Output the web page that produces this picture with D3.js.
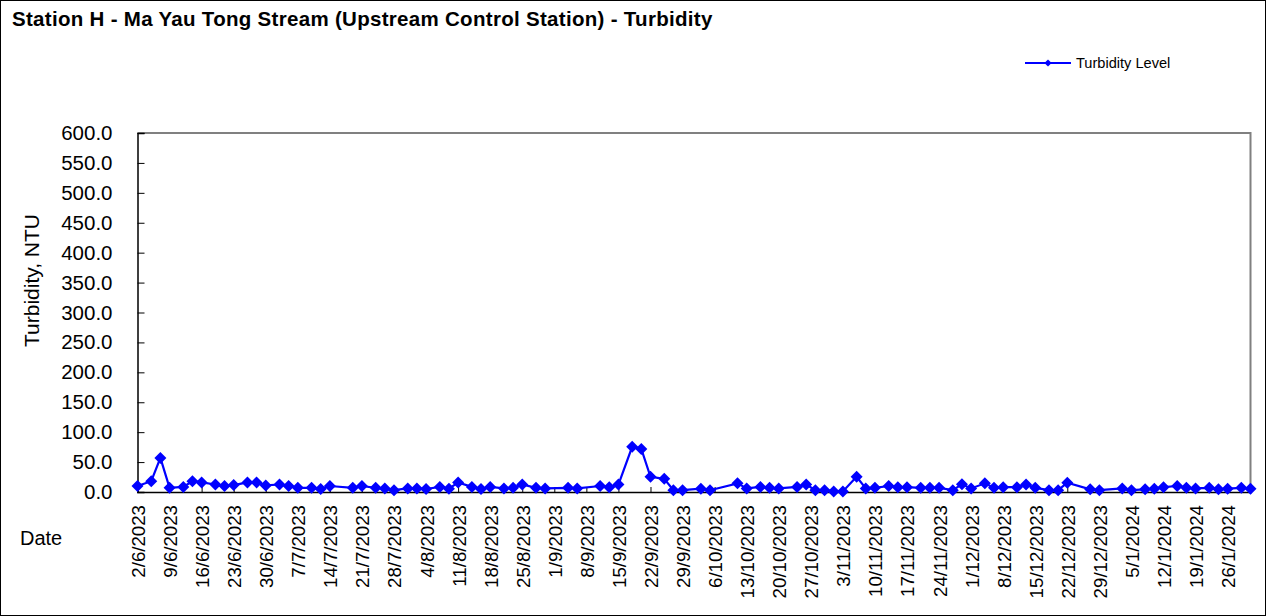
<!DOCTYPE html>
<html>
<head>
<meta charset="utf-8">
<script src="https://cdn.jsdelivr.net/npm/d3@7"></script>
<style>
  body { margin: 0; background: #fff; }
  svg { display: block; font-family: 'Liberation Sans', Arial, sans-serif; }
</style>
</head>
<body>
<div id="chart"></div>
<script>
// sampling dates (d/m/yyyy) and turbidity readings, NTU
const sampleDates = [
  '2/6/2023', '5/6/2023', '7/6/2023', '9/6/2023', '12/6/2023', '14/6/2023', '16/6/2023',
  '19/6/2023', '21/6/2023', '23/6/2023', '26/6/2023', '28/6/2023', '30/6/2023',
  '3/7/2023', '5/7/2023', '7/7/2023', '10/7/2023', '12/7/2023', '14/7/2023',
  '19/7/2023', '21/7/2023', '24/7/2023', '26/7/2023', '28/7/2023', '31/7/2023',
  '2/8/2023', '4/8/2023', '7/8/2023', '9/8/2023', '11/8/2023', '14/8/2023', '16/8/2023',
  '18/8/2023', '21/8/2023', '23/8/2023', '25/8/2023', '28/8/2023', '30/8/2023',
  '4/9/2023', '6/9/2023', '11/9/2023', '13/9/2023', '15/9/2023', '18/9/2023', '20/9/2023',
  '22/9/2023', '25/9/2023', '27/9/2023', '29/9/2023',
  '3/10/2023', '5/10/2023', '11/10/2023', '13/10/2023', '16/10/2023', '18/10/2023',
  '20/10/2023', '24/10/2023', '26/10/2023', '28/10/2023', '30/10/2023',
  '1/11/2023', '3/11/2023', '6/11/2023', '8/11/2023', '10/11/2023', '13/11/2023',
  '15/11/2023', '17/11/2023', '20/11/2023', '22/11/2023', '24/11/2023', '27/11/2023', '29/11/2023',
  '1/12/2023', '4/12/2023', '6/12/2023', '8/12/2023', '11/12/2023', '13/12/2023', '15/12/2023',
  '18/12/2023', '20/12/2023', '22/12/2023', '27/12/2023', '29/12/2023',
  '3/1/2024', '5/1/2024', '8/1/2024', '10/1/2024', '12/1/2024', '15/1/2024', '17/1/2024',
  '19/1/2024', '22/1/2024', '24/1/2024', '26/1/2024', '29/1/2024', '31/1/2024'
];

const turbidity = [
  10, 18, 57, 7, 8.5, 18, 16,
  12.5, 10, 11.5, 16, 16, 11,
  12.5, 10, 7, 7, 5, 10,
  7, 10, 7, 6, 3, 6,
  6, 5, 8.5, 5.5, 16, 8.5, 5,
  8.5, 6, 7, 12.5, 7, 6,
  7, 6, 10, 8, 12.5, 75.5, 72,
  25.5, 22, 3, 3,
  5.5, 3, 14.5, 6, 8.5, 7,
  6, 8.5, 12.5, 3, 3,
  1, 1, 25.5, 6, 7, 10,
  8, 8, 7, 7, 7, 3, 13,
  6, 14.5, 7, 8, 8, 12.5, 7,
  3, 3, 15.5, 4.5, 3,
  6, 3, 4.5, 5.5, 8, 10, 7,
  6, 7, 4.5, 5.5, 7, 5.5
];

const yTicks = [0, 50, 100, 150, 200, 250, 300, 350, 400, 450, 500, 550, 600];
const axisStart = '2/6/2023';
const axisEnd = '31/1/2024';

const width = 1266;
const height = 616;
const margin = { top: 133, right: 15.5, bottom: 124, left: 137.5 };
const plotW = width - margin.left - margin.right;
const plotH = height - margin.top - margin.bottom;

const parseDate = d3.timeParse('%d/%m/%Y');
const fmtDate = (d) => `${d.getDate()}/${d.getMonth() + 1}/${d.getFullYear()}`;

const data = sampleDates.map((d, i) => ({ date: parseDate(d), value: turbidity[i] }));

const svg = d3.select('#chart').append('svg')
  .attr('width', width)
  .attr('height', height);

svg.append('rect')
  .attr('x', 0.5).attr('y', 0.5)
  .attr('width', width - 1).attr('height', height - 1)
  .attr('fill', '#fff')
  .attr('stroke', '#000');

// title
svg.append('text')
  .attr('x', 12)
  .attr('y', 26)
  .attr('font-size', 20.5)
  .attr('font-weight', 'bold')
  .attr('letter-spacing', 0.3)
  .text('Station H - Ma Yau Tong Stream (Upstream Control Station) - Turbidity');

const x = d3.scaleTime()
  .domain([parseDate(axisStart), parseDate(axisEnd)])
  .range([0, plotW]);

const y = d3.scaleLinear()
  .domain([0, 600])
  .range([plotH, 0]);

const g = svg.append('g')
  .attr('transform', `translate(${margin.left},${margin.top})`);

// plot frame (top/right)
g.append('path')
  .attr('d', `M0,0H${plotW}V${plotH}`)
  .attr('fill', 'none')
  .attr('stroke', '#808080')
  .attr('stroke-width', 2);

// y axis
const yAxis = d3.axisLeft(y)
  .tickValues(yTicks)
  .tickSize(-7)
  .tickPadding(25)
  .tickFormat(d3.format('.1f'));

const yG = g.append('g').call(yAxis);
yG.select('.domain').attr('stroke', '#000').attr('stroke-width', 1.5);
yG.selectAll('.tick line').attr('stroke', '#000');
yG.selectAll('.tick text')
  .attr('font-size', 20.5)
  .attr('font-family', "'Liberation Sans', Arial, sans-serif")
  .attr('fill', '#000');

// x axis with weekly ticks
const weekTicks = d3.timeDay.range(parseDate(axisStart), d3.timeDay.offset(parseDate(axisEnd), 1), 7);

const xAxis = d3.axisBottom(x)
  .tickValues(weekTicks)
  .tickSize(-5)
  .tickFormat(fmtDate);

const xG = g.append('g')
  .attr('transform', `translate(0,${plotH})`)
  .call(xAxis);
xG.select('.domain').attr('stroke', '#000').attr('stroke-width', 1.5);
xG.selectAll('.tick line').attr('stroke', '#000');
xG.selectAll('.tick text')
  .attr('font-size', 18.67)
  .attr('font-family', "'Liberation Sans', Arial, sans-serif")
  .attr('fill', '#000')
  .attr('text-anchor', 'end')
  .attr('dy', null)
  .attr('y', null)
  .attr('transform', 'translate(7,13) rotate(-90)');

// series
const line = d3.line()
  .x((d) => x(d.date))
  .y((d) => y(d.value));

g.append('path')
  .datum(data)
  .attr('d', line)
  .attr('fill', 'none')
  .attr('stroke', '#0000ff')
  .attr('stroke-width', 2.2);

g.selectAll('.marker')
  .data(data)
  .enter().append('path')
  .attr('class', 'marker')
  .attr('transform', (d) => `translate(${x(d.date)},${y(d.value)}) rotate(45)`)
  .attr('d', d3.symbol().type(d3.symbolSquare).size(72))
  .attr('fill', '#0000ff');

// axis titles
svg.append('text')
  .attr('transform', `translate(39,${margin.top + plotH / 2 - 32}) rotate(-90)`)
  .attr('text-anchor', 'middle')
  .attr('font-size', 21)
  .text('Turbidity, NTU');

svg.append('text')
  .attr('x', 20)
  .attr('y', 545)
  .attr('font-size', 20)
  .text('Date');

// legend
const lg = svg.append('g').attr('transform', 'translate(1025,63)');
lg.append('line')
  .attr('x1', 0).attr('x2', 46)
  .attr('y1', 0).attr('y2', 0)
  .attr('stroke', '#0000ff')
  .attr('stroke-width', 2);
lg.append('path')
  .attr('transform', 'translate(23,0) rotate(45)')
  .attr('d', d3.symbol().type(d3.symbolSquare).size(26))
  .attr('fill', '#0000ff');
lg.append('text')
  .attr('x', 51)
  .attr('y', 5)
  .attr('font-size', 14.6)
  .text('Turbidity Level');
</script>
</body>
</html>
